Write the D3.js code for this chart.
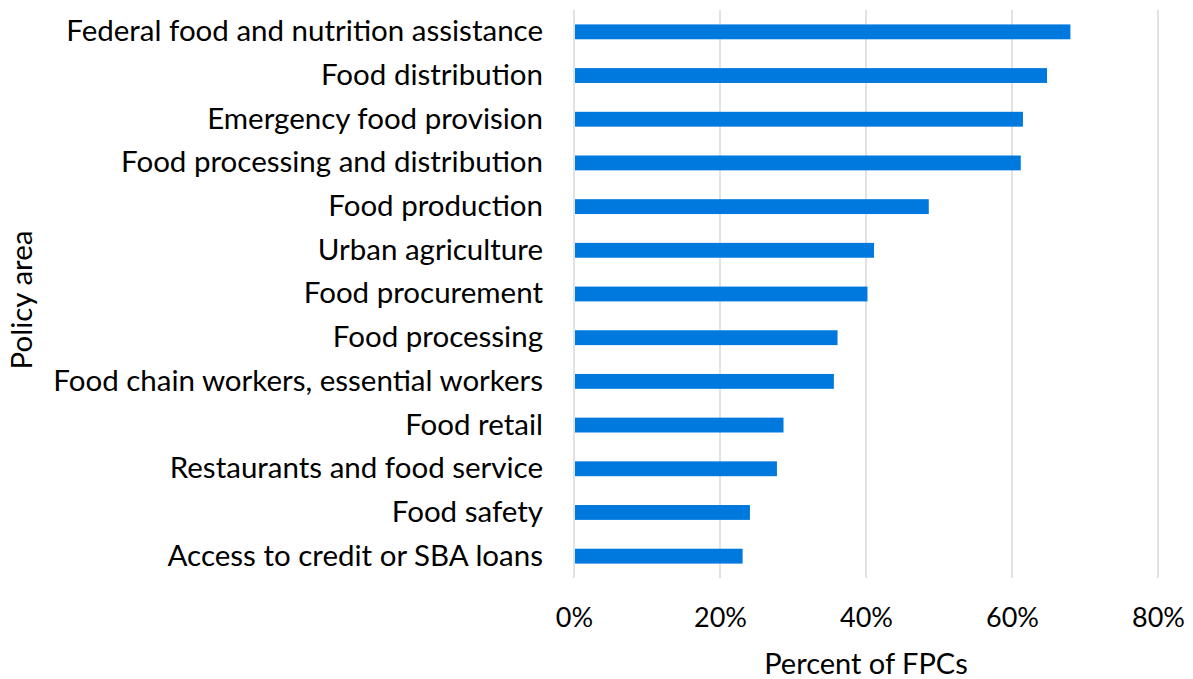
<!DOCTYPE html>
<html>
<head>
<meta charset="utf-8">
<script src="https://cdn.jsdelivr.net/npm/d3@7"></script>
<style>
  html, body { margin: 0; padding: 0; background: #fff; }
  svg { display: block; font-family: Lato, "Open Sans", sans-serif; }
</style>
</head>
<body>
<svg id="chart" width="1193" height="679"></svg>
<script>
// Policy areas addressed by food policy councils, top to bottom
const categories = [
  "Federal food and nutrition assistance",
  "Food distribution",
  "Emergency food provision",
  "Food processing and distribution",
  "Food production",
  "Urban agriculture",
  "Food procurement",
  "Food processing",
  "Food chain workers, essential workers",
  "Food retail",
  "Restaurants and food service",
  "Food safety",
  "Access to credit or SBA loans"
];
// Share of FPCs working in each area (%)
const percentValues = [68.0, 64.8, 61.5, 61.2, 48.6, 41.1, 40.2, 36.1, 35.6, 28.7, 27.8, 24.1, 23.1];
const xTicks = [0, 20, 40, 60, 80];
const xTitle = "Percent of FPCs";
const yTitle = "Policy area";

const svg = d3.select("#chart");
const margin = { top: 10, right: 35, bottom: 101, left: 574 };
const width = 1193 - margin.left - margin.right;
const height = 679 - margin.top - margin.bottom;

const x = d3.scaleLinear().domain([0, 80]).range([0, width]);
const y = d3.scaleBand().domain(categories).range([0, height]).paddingInner(0.66).paddingOuter(0.33);

const g = svg.append("g").attr("transform", `translate(${margin.left},${margin.top})`);

// vertical gridlines
g.selectAll("line.grid").data(xTicks).join("line")
  .attr("class", "grid")
  .attr("x1", d => x(d)).attr("x2", d => x(d))
  .attr("y1", 0).attr("y2", height)
  .attr("stroke", "#d9d9d9").attr("stroke-width", 1.5);

// bars
g.selectAll("rect.bar").data(categories).join("rect")
  .attr("class", "bar")
  .attr("x", x(0) + 1)
  .attr("y", d => y(d))
  .attr("width", (d, i) => x(percentValues[i]) - x(0) - 1)
  .attr("height", y.bandwidth())
  .attr("fill", "#0079de");

// category labels
const yAxis = d3.axisLeft(y).tickSize(0).tickPadding(31);
g.append("g").call(yAxis)
  .call(a => a.select(".domain").remove())
  .selectAll("text")
  .attr("font-size", 29.5).attr("fill", "#000")
  .attr("font-family", "Lato, 'Open Sans', sans-serif");

// x tick labels
const xAxis = d3.axisBottom(x).tickValues(xTicks).tickFormat(d => d + "%").tickSize(0).tickPadding(30);
g.append("g").attr("transform", `translate(0,${height})`).call(xAxis)
  .call(a => a.select(".domain").remove())
  .selectAll("text")
  .attr("font-size", 27).attr("fill", "#000")
  .attr("font-family", "Lato, 'Open Sans', sans-serif");

// axis titles
svg.append("text")
  .attr("x", margin.left + width / 2).attr("y", 674)
  .attr("text-anchor", "middle").attr("font-size", 29).attr("fill", "#000")
  .text(xTitle);

svg.append("text")
  .attr("transform", `translate(32,${margin.top + height / 2 + 6}) rotate(-90)`)
  .attr("text-anchor", "middle").attr("font-size", 29.5).attr("fill", "#000")
  .text(yTitle);
</script>
</body>
</html>
